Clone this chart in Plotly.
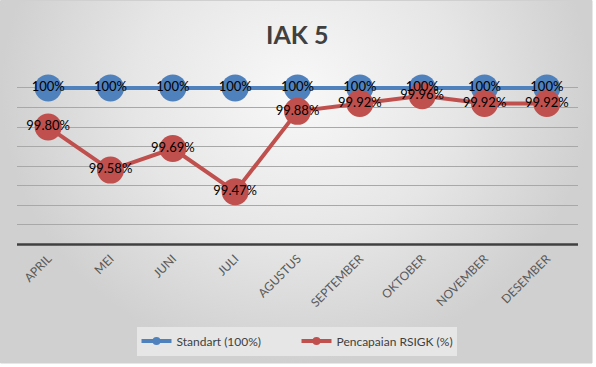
import plotly.graph_objects as go

months = ["APRIL", "MEI", "JUNI", "JULI", "AGUSTUS", "SEPTEMBER", "OKTOBER", "NOVEMBER", "DESEMBER"]
standart = [100, 100, 100, 100, 100, 100, 100, 100, 100]
pencapaian = [99.80, 99.58, 99.69, 99.47, 99.88, 99.92, 99.96, 99.92, 99.92]
standart_labels = ["100%"] * 9
pencapaian_labels = ["99.80%", "99.58%", "99.69%", "99.47%", "99.88%", "99.92%", "99.96%", "99.92%", "99.92%"]

W, H = 596, 367
BLUE = "#4f81bd"
RED = "#c0504d"
FONT = "Lato"

fig = go.Figure()

# background gradient (on full-page axes)
fig.add_trace(go.Scatter(
    x=[1, 592, 592, 1, 1], y=[-180, -180, 363, 363, -180],
    mode="lines", line=dict(width=0), fill="toself",
    fillgradient=dict(type="radial", colorscale=[[0, "#f8f8f8"], [0.55, "#e6e6e6"], [1, "#d0d0d0"]]),
    hoverinfo="skip", showlegend=False, xaxis="x", yaxis="y"))

# data series
fig.add_trace(go.Scatter(
    x=months, y=standart, mode="lines+markers", name="Standart (100%)",
    line=dict(color=BLUE, width=4), marker=dict(size=27, color=BLUE),
    showlegend=False, xaxis="x2", yaxis="y2", cliponaxis=False))
fig.add_trace(go.Scatter(
    x=months, y=pencapaian, mode="lines+markers", name="Pencapaian RSIGK (%)",
    line=dict(color=RED, width=4), marker=dict(size=27, color=RED),
    showlegend=False, xaxis="x2", yaxis="y2", cliponaxis=False))
# data labels
fig.add_trace(go.Scatter(
    x=months, y=standart, mode="text", text=standart_labels, textposition="middle center",
    textfont=dict(family=FONT, size=13, color="#000000"),
    showlegend=False, xaxis="x2", yaxis="y2", cliponaxis=False, hoverinfo="skip"))
fig.add_trace(go.Scatter(
    x=months, y=pencapaian, mode="text", text=pencapaian_labels, textposition="middle center",
    textfont=dict(family=FONT, size=13, color="#000000"),
    showlegend=False, xaxis="x2", yaxis="y2", cliponaxis=False, hoverinfo="skip"))
# legend entries
fig.add_trace(go.Scatter(
    x=[None], y=[None], mode="lines+markers", name="Standart (100%)",
    line=dict(color=BLUE, width=4), marker=dict(size=8, color=BLUE),
    xaxis="x2", yaxis="y2"))
fig.add_trace(go.Scatter(
    x=[None], y=[None], mode="lines+markers", name="Pencapaian RSIGK (%)",
    line=dict(color=RED, width=4), marker=dict(size=8, color=RED),
    xaxis="x2", yaxis="y2"))

fig.update_layout(
    width=W, height=H,
    margin=dict(l=0, r=0, t=0, b=0),
    paper_bgcolor="#ffffff",
    plot_bgcolor="rgba(0,0,0,0)",
    showlegend=True,
    xaxis=dict(domain=[0, 1], range=[0, W], visible=False, fixedrange=True),
    yaxis=dict(domain=[0, 1], range=[H, 0], visible=False, fixedrange=True),
    xaxis2=dict(domain=[17 / W, 578 / W], anchor="y2", showgrid=False, zeroline=False,
                showline=False, ticks="", tickangle=-45, ticklabelstandoff=4,
                tickfont=dict(family=FONT, size=12, color="#595959"),
                range=[-0.5, 8.5], type="category"),
    yaxis2=dict(domain=[1 - 244.5 / H, 1 - 68.3 / H], anchor="x2", range=[99.2, 100.1],
                tick0=99.2, dtick=0.1, showgrid=True, gridcolor="#a8a8a8", gridwidth=1,
                showticklabels=False, zeroline=False, showline=False, ticks=""),
    legend=dict(orientation="h", x=296.5 / W, xanchor="center", y=1 - 341 / H, yanchor="middle",
                bgcolor="#e6e6e6", font=dict(family=FONT, size=12, color="#404040"),
                borderwidth=0, itemwidth=30, entrywidth=115),
    annotations=[dict(text="<b>IAK 5</b>", x=297 / W, y=1 - 34 / H, xref="paper", yref="paper",
                      xanchor="center", yanchor="middle", showarrow=False,
                      font=dict(family=FONT, size=25, color="#404040"))],
    shapes=[
        dict(type="line", xref="paper", yref="paper", x0=17 / W, x1=578 / W,
             y0=1 - 244.5 / H, y1=1 - 244.5 / H, line=dict(color="#404040", width=2.5)),
        dict(type="rect", xref="paper", yref="paper", x0=0.5 / W, x1=592 / W,
             y0=1 - 363 / H, y1=1 - 0.5 / H, line=dict(color="#d0d0d0", width=1)),
    ],
)

fig.write_html("out.html", config={"displayModeBar": False},
               post_script="document.body.style.margin='0';document.body.style.padding='0';")
